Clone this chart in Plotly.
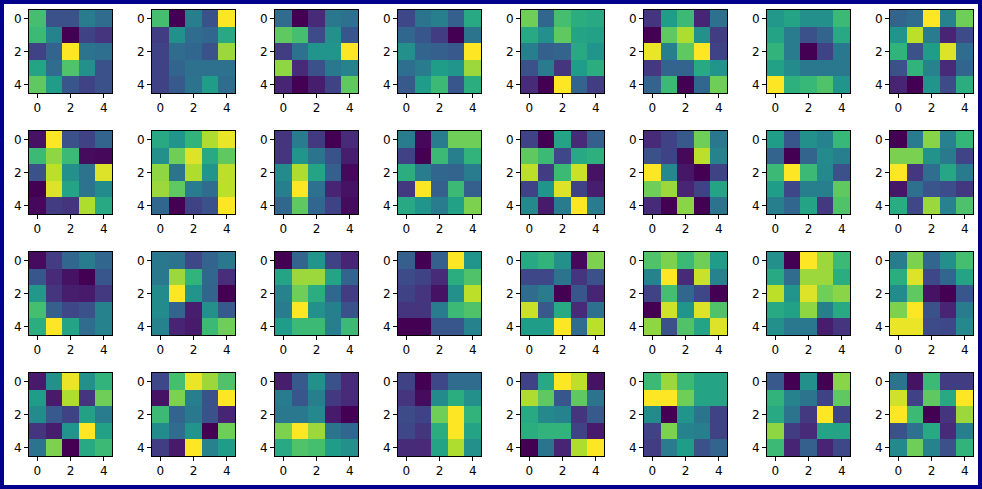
import plotly.graph_objects as go

# 5x5 grids, each one scaled 0..1 on its own (min dark purple, max yellow)
row1_grids = [
    [[0.70, 0.25, 0.25, 0.42, 0.35], [0.68, 0.45, 0.00, 0.20, 0.15], [0.20, 0.32, 1.00, 0.38, 0.36], [0.58, 0.35, 0.72, 0.50, 0.25], [0.75, 0.55, 0.27, 0.20, 0.25]],
    [[0.70, 0.00, 0.43, 0.25, 1.00], [0.18, 0.50, 0.35, 0.33, 0.60], [0.20, 0.35, 0.33, 0.25, 0.85], [0.20, 0.32, 0.37, 0.37, 0.37], [0.20, 0.28, 0.38, 0.55, 0.35]],
    [[0.35, 0.00, 0.12, 0.40, 0.37], [0.75, 0.70, 0.23, 0.50, 0.27], [0.18, 0.37, 0.52, 0.52, 1.00], [0.83, 0.12, 0.25, 0.40, 0.45], [0.10, 0.00, 0.08, 0.20, 0.75]],
    [[0.22, 0.38, 0.43, 0.30, 0.60], [0.33, 0.27, 0.18, 0.00, 0.38], [0.50, 0.32, 0.30, 0.28, 1.00], [0.36, 0.42, 0.55, 0.52, 0.85], [0.28, 0.55, 0.68, 0.27, 0.62]],
    [[0.78, 0.33, 0.70, 0.62, 0.60], [0.60, 0.50, 0.75, 0.58, 0.57], [0.43, 0.30, 0.32, 0.60, 0.52], [0.25, 0.42, 0.15, 0.55, 0.62], [0.12, 0.00, 1.00, 0.32, 0.18]],
    [[0.15, 0.55, 0.68, 0.10, 0.37], [0.00, 0.75, 0.88, 0.50, 0.18], [0.97, 0.43, 0.75, 1.00, 0.20], [0.17, 0.32, 0.32, 0.60, 0.52], [0.32, 0.68, 0.00, 0.33, 0.78]],
    [[0.53, 0.58, 0.50, 0.50, 0.68], [0.58, 0.42, 0.25, 0.32, 0.60], [0.65, 0.42, 0.00, 0.20, 0.40], [0.57, 0.48, 0.40, 0.40, 0.40], [1.00, 0.63, 0.67, 0.72, 0.52]],
    [[0.32, 0.35, 1.00, 0.45, 0.78], [0.52, 0.90, 0.42, 0.10, 0.23], [0.65, 0.25, 0.55, 0.95, 0.35], [0.25, 0.65, 0.45, 0.12, 0.32], [0.10, 0.00, 0.52, 0.23, 0.62]],
]
row2_grids = [
    [[0.05, 1.00, 0.25, 0.20, 0.32], [0.68, 0.83, 0.68, 0.03, 0.02], [0.25, 0.90, 0.50, 0.38, 0.95], [0.00, 0.95, 0.58, 0.38, 0.48], [0.02, 0.18, 0.15, 0.88, 0.60]],
    [[0.60, 0.52, 0.65, 0.88, 0.97], [0.50, 0.78, 0.95, 0.60, 0.75], [0.83, 0.38, 0.88, 0.52, 0.90], [0.85, 0.75, 0.42, 0.35, 0.90], [0.33, 0.00, 0.20, 0.25, 1.00]],
    [[0.15, 0.42, 0.17, 0.00, 0.12], [0.15, 0.52, 0.38, 0.25, 0.08], [0.48, 0.88, 0.58, 0.30, 0.02], [0.43, 1.00, 0.37, 0.10, 0.05], [0.33, 0.75, 0.33, 0.20, 0.03]],
    [[0.42, 0.02, 0.42, 0.78, 0.78], [0.20, 0.00, 0.68, 0.43, 0.65], [0.62, 0.42, 0.33, 0.32, 0.42], [0.17, 1.00, 0.30, 0.68, 0.30], [0.60, 0.52, 0.42, 0.57, 0.80]],
    [[0.20, 0.00, 0.58, 0.12, 0.30], [0.75, 0.68, 0.22, 0.60, 0.63], [0.90, 0.18, 0.68, 0.92, 0.05], [0.20, 0.52, 0.95, 0.20, 0.08], [0.47, 0.07, 0.42, 1.00, 0.42]],
    [[0.12, 0.20, 0.28, 0.78, 0.40], [0.25, 0.20, 0.02, 0.90, 0.45], [1.00, 0.47, 0.06, 0.00, 0.20], [0.78, 0.85, 0.10, 0.20, 0.58], [0.12, 0.00, 0.82, 0.00, 0.38]],
    [[0.55, 0.27, 0.50, 0.45, 0.67], [0.32, 0.00, 0.32, 0.48, 0.43], [0.68, 1.00, 0.68, 0.47, 0.25], [0.55, 0.22, 0.43, 0.43, 0.75], [0.43, 0.33, 0.58, 0.17, 0.72]],
    [[0.02, 0.43, 0.82, 0.45, 0.67], [0.80, 0.80, 0.52, 0.42, 0.22], [1.00, 0.18, 0.37, 0.60, 0.42], [0.08, 0.38, 0.28, 0.25, 0.18], [0.62, 0.23, 0.85, 0.45, 0.72]],
]
row3_grids = [
    [[0.03, 0.18, 0.33, 0.42, 0.33], [0.27, 0.12, 0.05, 0.00, 0.27], [0.53, 0.15, 0.08, 0.07, 0.17], [0.70, 0.30, 0.22, 0.25, 0.45], [0.62, 1.00, 0.58, 0.35, 0.45]],
    [[0.40, 0.38, 0.22, 0.32, 0.40], [0.40, 0.85, 0.65, 0.33, 0.13], [0.48, 1.00, 0.52, 0.32, 0.00], [0.48, 0.32, 0.08, 0.50, 0.28], [0.45, 0.10, 0.07, 0.68, 0.78]],
    [[0.00, 0.32, 0.52, 0.20, 0.10], [0.58, 0.85, 0.85, 0.58, 0.32], [0.45, 0.78, 0.62, 0.33, 0.18], [0.42, 1.00, 0.50, 0.43, 0.25], [0.55, 0.68, 0.68, 0.43, 0.68]],
    [[0.30, 0.00, 0.30, 1.00, 0.52], [0.23, 0.20, 0.12, 0.62, 0.72], [0.20, 0.15, 0.05, 0.50, 0.90], [0.15, 0.15, 0.42, 0.68, 0.72], [0.00, 0.00, 0.27, 0.27, 0.45]],
    [[0.60, 0.65, 0.50, 0.02, 0.80], [0.22, 0.22, 0.38, 0.15, 0.25], [0.35, 0.42, 0.00, 0.27, 0.10], [0.92, 0.28, 0.60, 0.12, 0.37], [0.55, 0.55, 1.00, 0.35, 0.90]],
    [[0.72, 0.80, 0.68, 0.78, 0.55], [0.45, 1.00, 0.12, 0.92, 0.45], [0.20, 0.70, 0.33, 0.22, 0.00], [0.00, 0.93, 0.52, 0.95, 0.72], [0.83, 0.25, 0.72, 0.58, 0.95]],
    [[0.50, 0.00, 1.00, 0.85, 0.68], [0.60, 0.35, 0.85, 0.85, 0.62], [0.90, 0.52, 0.95, 0.78, 0.82], [0.60, 0.57, 0.83, 0.43, 0.60], [0.50, 0.40, 0.40, 0.08, 0.15]],
    [[0.42, 0.80, 0.33, 0.50, 0.70], [0.62, 0.95, 0.22, 0.33, 0.58], [0.48, 0.75, 0.05, 0.00, 0.27], [0.80, 1.00, 0.25, 0.10, 0.42], [0.97, 0.97, 0.23, 0.22, 0.47]],
]
row4_grids = [
    [[0.07, 0.50, 0.97, 0.50, 0.65], [0.55, 0.07, 0.88, 0.15, 0.78], [0.48, 0.28, 0.20, 0.57, 0.42], [0.15, 0.08, 0.52, 1.00, 0.57], [0.38, 0.80, 0.00, 0.60, 0.68]],
    [[0.22, 0.70, 0.97, 0.85, 0.72], [0.05, 0.80, 0.43, 0.25, 1.00], [0.68, 0.32, 0.40, 0.25, 0.10], [0.48, 0.35, 0.52, 0.00, 0.78], [0.18, 0.07, 1.00, 0.45, 0.55]],
    [[0.08, 0.28, 0.50, 0.25, 0.12], [0.42, 0.27, 0.43, 0.17, 0.12], [0.40, 0.40, 0.47, 0.07, 0.00], [0.80, 1.00, 0.85, 0.38, 0.33], [0.60, 0.72, 0.70, 0.55, 0.50]],
    [[0.20, 0.00, 0.22, 0.35, 0.35], [0.15, 0.03, 0.48, 0.62, 0.50], [0.23, 0.20, 0.78, 1.00, 0.65], [0.22, 0.15, 0.62, 1.00, 0.58], [0.12, 0.12, 0.58, 0.88, 0.50]],
    [[0.20, 0.60, 1.00, 0.90, 0.05], [0.88, 0.75, 0.27, 0.75, 0.38], [0.60, 0.47, 0.45, 0.15, 0.28], [0.62, 0.65, 0.65, 0.20, 0.07], [0.00, 0.38, 0.10, 0.88, 1.00]],
    [[0.68, 0.85, 0.68, 0.58, 0.58], [1.00, 1.00, 0.78, 0.58, 0.58], [0.48, 0.00, 0.52, 0.38, 0.20], [0.20, 0.80, 0.45, 0.43, 0.20], [0.18, 0.42, 0.55, 0.25, 0.32]],
    [[0.28, 0.00, 0.50, 0.00, 0.82], [0.65, 0.45, 0.38, 0.20, 0.75], [0.60, 0.38, 0.17, 1.00, 0.20], [0.83, 0.18, 0.12, 0.58, 0.58], [0.68, 0.10, 0.30, 0.10, 0.22]],
    [[0.38, 0.05, 0.68, 0.18, 0.18], [0.93, 0.20, 0.75, 0.60, 1.00], [1.00, 0.68, 0.00, 0.15, 0.85], [0.25, 0.37, 0.60, 0.12, 0.43], [0.47, 0.78, 0.45, 0.25, 0.65]],
]
rows = [row1_grids, row2_grids, row3_grids, row4_grids]
tick_vals = [0, 2, 4]

W, H = 982, 489
col_left = [29, 152, 275, 398, 521, 644, 767, 890]   # px
row_top = [10, 131, 252, 373]                          # px
size = 83

fig = go.Figure()
n = 0
for r, grids in enumerate(rows):
    for c, z in enumerate(grids):
        n += 1
        suffix = '' if n == 1 else str(n)
        fig.add_trace(go.Heatmap(z=z, colorscale='Viridis', showscale=False,
                                 xaxis='x' + suffix, yaxis='y' + suffix, hoverinfo='z'))
        ax = dict(range=[-0.5, 4.5], tickvals=tick_vals, ticks='outside', ticklen=4,
                  tickcolor='black', showline=True, linecolor='black', linewidth=1,
                  mirror=True, showgrid=False, zeroline=False,
                  tickfont=dict(family='DejaVu Sans', size=12, color='black'))
        x0 = col_left[c] / W
        y1 = 1 - row_top[r] / H
        fig.layout['xaxis' + suffix] = dict(ax, domain=[x0, x0 + size / W], anchor='y' + suffix)
        fig.layout['yaxis' + suffix] = dict(ax, range=[4.5, -0.5], domain=[y1 - size / H, y1],
                                            anchor='x' + suffix)

# navy frame round the white figure
fig.add_shape(type='rect', xref='paper', yref='paper', x0=4 / W, x1=1 - 4 / W,
              y0=4 / H, y1=1 - 4 / H, fillcolor='white', line_width=0, layer='below')

fig.update_layout(width=W, height=H, margin=dict(l=0, r=0, t=0, b=0),
                  paper_bgcolor='#00008b', plot_bgcolor='white', showlegend=False)
fig.write_html("out.html", config={'displayModeBar': False},
               post_script="document.body.style.margin = '0';")
